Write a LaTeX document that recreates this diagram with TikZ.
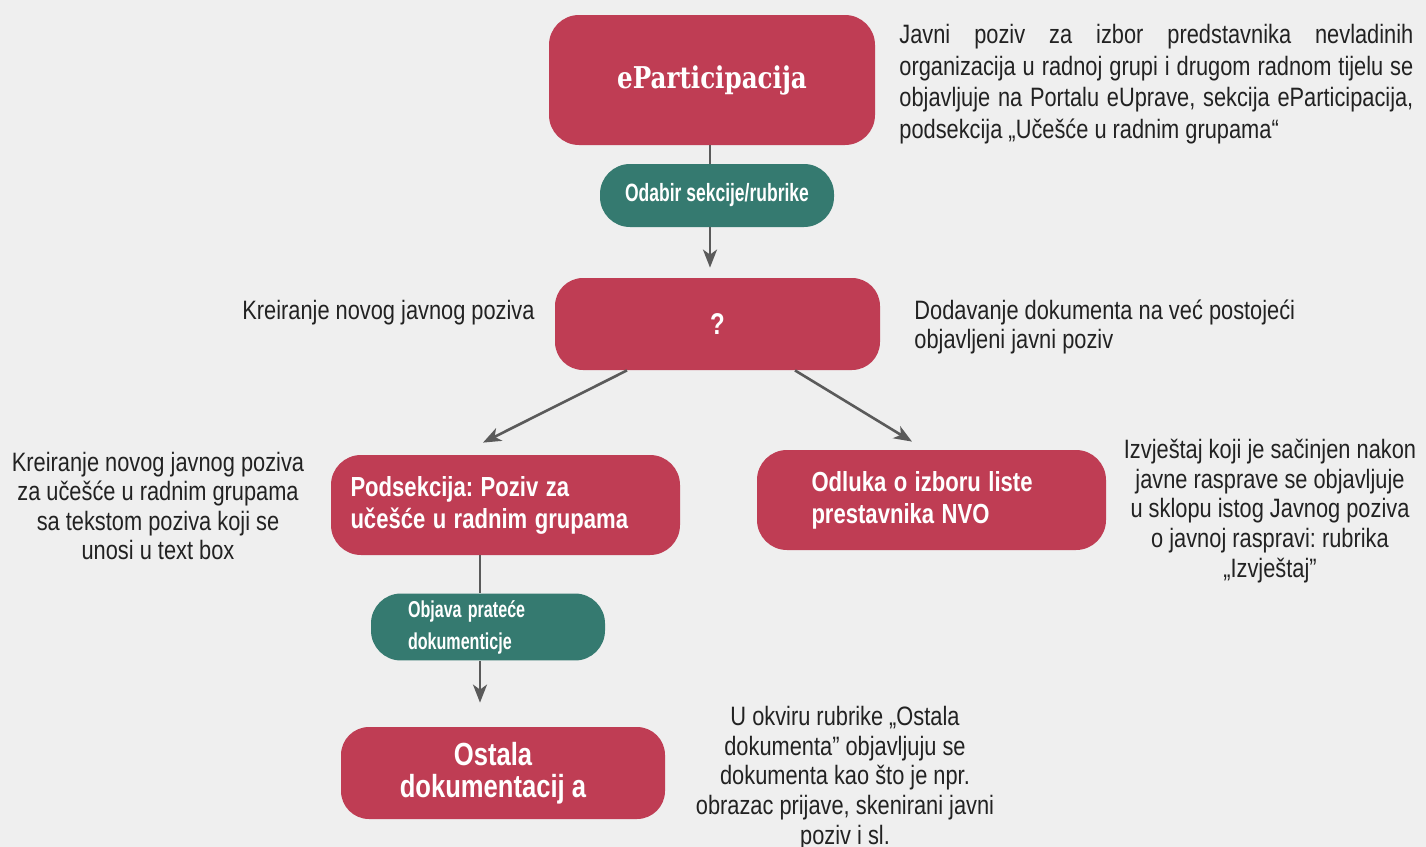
\documentclass[tikz,border=0pt]{standalone}
\usepackage{fontspec}
\usetikzlibrary{arrows.meta}
\frenchspacing
\newfontfamily\bodyf{Liberation Sans}[FakeStretch=0.82]
\newfontfamily\boxf{Liberation Sans}[FakeStretch=0.8]
\newfontfamily\greenf{Liberation Sans}[FakeStretch=0.7]
\newfontfamily\slabf{DejaVu Serif}[FakeStretch=0.82]
\newcommand\tightsp{\frenchspacing\spaceskip=0.27em plus 0.05em minus 0.02em\relax\xspaceskip=0.27em\relax}
\definecolor{boxred}{HTML}{BF3D54}
\definecolor{boxgreen}{HTML}{357A70}
\definecolor{bg}{HTML}{EFEFEF}
\definecolor{linegray}{HTML}{5A5A5A}
\definecolor{txt}{HTML}{222222}
\tikzset{
  redbox/.style={fill=boxred, draw=none, rounded corners=15pt, text=white},
  greenbox/.style={fill=boxgreen, draw=none, rounded corners=15pt, text=white},
  desc/.style={text=txt, font=\bodyf\fontsize{13.3}{14.8}\selectfont, inner sep=0pt},
  conn/.style={draw=linegray, line width=1.3pt},
  arr/.style={conn, -{Stealth[length=9pt,width=7pt,inset=2.5pt]}}
}
\begin{document}
\begin{tikzpicture}[x=0.5pt,y=-0.5pt]
\fill[bg] (0,0) rectangle (1426,847);
\useasboundingbox (0,0) rectangle (1426,847);

% boxes
\node[redbox, minimum width=163pt, minimum height=65pt, font=\slabf\bfseries\fontsize{15}{17}\selectfont] (ep) at (712,80) {eParticipacija};
\node[greenbox, minimum width=117pt, minimum height=31.5pt, font=\greenf\bfseries\fontsize{12.5}{14}\selectfont] (od) at (717,195.5) {Odabir sekcije/rubrike};
\node[redbox, rounded corners=14pt, minimum width=162.5pt, minimum height=46pt, font=\boxf\bfseries\fontsize{15}{16}\selectfont] (q) at (717.5,324) {?};
\node[redbox, minimum height=50pt, text width=160pt, inner xsep=7.25pt, align=left, font=\boxf\bfseries\fontsize{13.8}{16}\selectfont] (pod) at (505.5,505) {\tightsp\hspace*{2.5pt}Podsekcija: Poziv za\\\hspace*{2.5pt}učešće u radnim grupama};
\node[redbox, minimum height=50pt, text width=130pt, inner xsep=22.25pt, align=left, font=\boxf\bfseries\fontsize{13.8}{16}\selectfont] (odl) at (931.5,500) {\tightsp\hspace*{5pt}Odluka o izboru liste\\\hspace*{5pt}prestavnika NVO};
\node[greenbox, minimum height=32pt, text width=84pt, inner xsep=16.5pt, align=left, font=\greenf\bfseries\fontsize{11.5}{16}\selectfont] (obj) at (488,627) {\tightsp\hspace*{2pt}Objava prateće\\\hspace*{2pt}dokumenticje};
\node[redbox, rounded corners=14pt, minimum width=162pt, minimum height=46pt, align=center, font=\boxf\bfseries\fontsize{16}{16}\selectfont] (ost) at (503,773) {\tightsp Ostala\hspace*{10pt}\\dokumentacij a\hspace*{10pt}};

% connectors
\coordinate (vtop) at (710,0);
\coordinate (vbot) at (480,0);
\draw[conn] (ep.south -| vtop) -- (od.north -| vtop);
\draw[arr, shorten >=5pt] (od.south -| vtop) -- (q.north -| vtop);
\draw[arr] ([xshift=-45.25pt]q.south) -- ([xshift=-11.25pt,yshift=6pt]pod.north);
\draw[arr] ([xshift=38.75pt]q.south) -- ([xshift=-9.75pt,yshift=4pt]odl.north);
\draw[conn] (pod.south -| vbot) -- (obj.north -| vbot);
\draw[arr, shorten >=12pt] (obj.south -| vbot) -- (ost.north -| vbot);

% descriptive texts
\node[desc, anchor=north west, text width=257pt, align=justify, font=\bodyf\fontsize{13.3}{15.8}\selectfont] (t1) at (899,24)
{Javni poziv za izbor predstavnika nevladinih\linebreak organizacija u radnoj grupi i drugom radnom tijelu se\linebreak objavljuje na Portalu eUprave, sekcija eParticipacija,\linebreak podsekcija „Učešće u radnim grupama“};
\node[desc, anchor=east] (t2) at (535,313) {Kreiranje novog javnog poziva};
\node[desc, anchor=west, align=left] (t3) at (914,327) {Dodavanje dokumenta na već postojeći\\objavljeni javni poziv};
\node[desc, align=center] (t4) at (158,506) {Kreiranje novog javnog poziva\\za učešće u radnim grupama\\sa tekstom poziva koji se\\unosi u text box};
\node[desc, align=center] (t5) at (1270,511) {Izvještaj koji je sačinjen nakon\\javne rasprave se objavljuje\\u sklopu istog Javnog poziva\\o javnoj raspravi: rubrika\\„Izvještaj”};
\node[desc, align=center] (t6) at (845,778) {U okviru rubrike „Ostala\\dokumenta” objavljuju se\\dokumenta kao što je npr.\\obrazac prijave, skenirani javni\\poziv i sl.};
\end{tikzpicture}
\end{document}
